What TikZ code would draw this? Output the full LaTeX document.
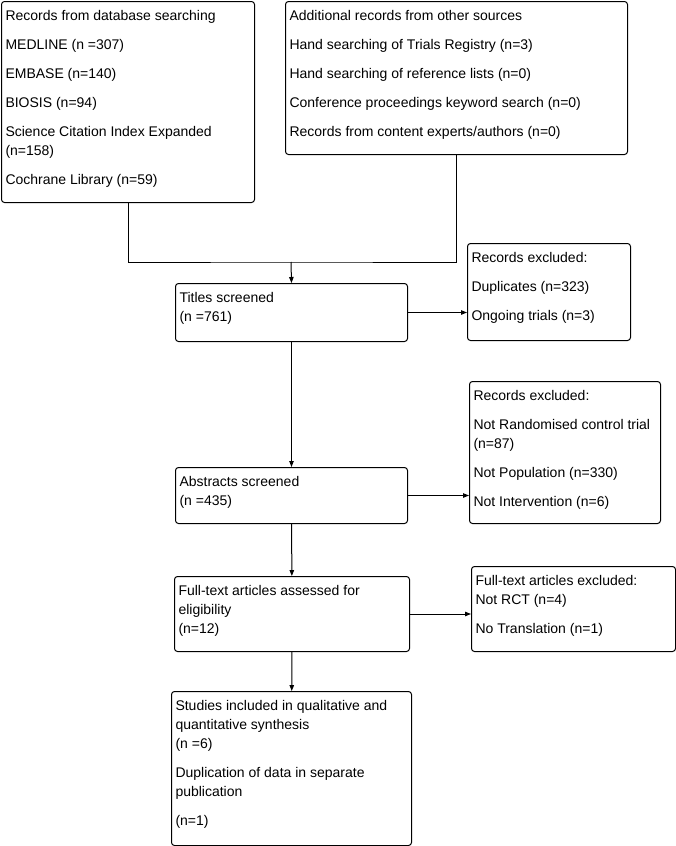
\documentclass[tikz,border=0pt]{standalone}
\usepackage{fontspec}
\setmainfont{Liberation Sans}
\usetikzlibrary{arrows.meta,positioning}
% box content: outer width, outer height (px), text
\newcommand{\bxt}[3]{\parbox[t][\dimexpr#2pt-8pt\relax][t]{\dimexpr#1pt-8pt\relax}{\setlength{\parskip}{10pt}\raggedright\rule{0pt}{15.3pt}#3}}
\tikzset{
  bx/.style={draw,rounded corners=3pt,anchor=north west,inner sep=4pt,line width=1pt},
  nyil/.style={-{Triangle[length=6pt,width=4.5pt]},line width=1pt},
  ln/.style={line width=1pt},
}

\begin{document}
\begin{tikzpicture}[x=1pt,y=-1pt,font=\fontsize{14}{19}\selectfont]
  \useasboundingbox (0,0) rectangle (676,846);
  \node[bx] (dbs) at (1,1) {\bxt{253}{201}{Records from database searching\par
    MEDLINE (n =307)\par EMBASE (n=140)\par BIOSIS (n=94)\par
    Science Citation Index Expanded\\(n=158)\par Cochrane Library (n=59)}};
  \node[bx] (oth) at (285,1) {\bxt{342}{153}{Additional records from other sources\par
    Hand searching of Trials Registry (n=3)\par Hand searching of reference lists (n=0)\par
    Conference proceedings keyword search (n=0)\par Records from content experts/authors (n=0)}};
  \node[bx] (tit) at (175,283) {\bxt{232}{58}{Titles screened\\(n =761)}};
  \node[bx] (ex1) at (467,243) {\bxt{163}{97}{Records excluded:\par Duplicates (n=323)\par Ongoing trials (n=3)}};
  \node[bx] (abs) at (175,467) {\bxt{232}{56}{Abstracts screened\\(n =435)}};
  \node[bx] (ex2) at (469,381) {\bxt{191}{142}{Records excluded:\par Not Randomised control trial\\(n=87)\par
    Not Population (n=330)\par Not Intervention (n=6)}};
  \node[bx] (ful) at (174,576) {\bxt{235}{75}{Full-text articles assessed for\\eligibility\\(n=12)}};
  \node[bx] (ex3) at (471,566) {\bxt{204}{85}{Full-text articles excluded:\\Not RCT (n=4)\par No Translation (n=1)}};
  \node[bx] (inc) at (171,691) {\bxt{240}{154}{Studies included in qualitative and\\quantitative synthesis\\(n =6)\par
    Duplication of data in separate\\publication\par (n=1)}};
  % merge of the two sources
  \coordinate (mrg) at (291,262);
  \draw[ln] (dbs.south) |- (mrg) -| (oth.south);
  \draw[nyil] (mrg) -- (tit.north);
  \draw[nyil] (tit) -- (abs);
  \draw[nyil] (abs) -- (ful);
  \draw[nyil] (ful) -- (inc);
  \draw[nyil] (tit.east) -- (ex1.west |- tit.east);
  \draw[nyil] (abs.east) -- (ex2.west |- abs.east);
  \draw[nyil] (ful.east) -- (ex3.west |- ful.east);
\end{tikzpicture}
\end{document}
